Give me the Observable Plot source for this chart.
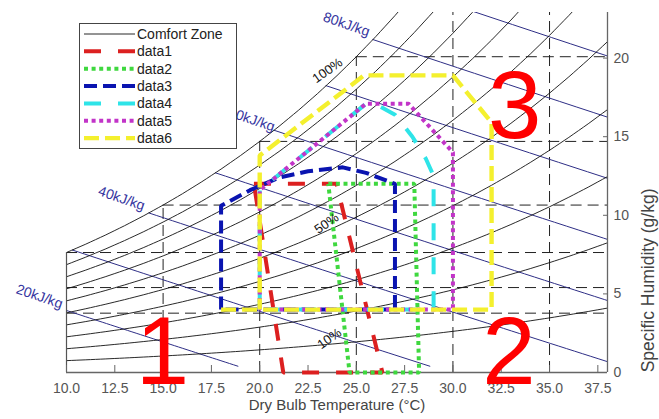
<!DOCTYPE html>
<html>
<head>
<meta charset="utf-8">
<script src="https://cdn.jsdelivr.net/npm/d3@7"></script>
<script src="https://cdn.jsdelivr.net/npm/@observablehq/plot@0.6"></script>
<style>
  body { margin: 0; background: #fff; }
  #chart { width: 659px; height: 419px; }
  #chart svg { display: block; }
</style>
</head>
<body>
<div id="chart"></div>
<script>
// ---------- psychrometric background data ----------
const satTemps = [0,1,2,3,4,5,6,7,8,9,10,11,12,13,14,15,16,17,18,19,20,21,22,23,24,25,26,27,28,29,30,31,32,33,34,35,36,37,38];
const satPressure = [0.6112,0.6571,0.7060,0.7581,0.8135,0.8726,0.9354,1.0021,1.0730,1.1482,1.2282,1.3130,1.4028,1.4981,1.5990,1.7058,1.8188,1.9384,2.0647,2.1983,2.3393,2.4882,2.6453,2.8111,2.9858,3.1699,3.3639,3.5681,3.7831,4.0092,4.2470,4.4969,4.7596,5.0354,5.3251,5.6290,5.9479,6.2823,6.6328];
const atmPressure = 101.325;
const rhLevels = [10,20,30,40,50,60,70,80,90,100];
const enthalpyLevels = [20,30,40,50,60,70,80,90];
const gridTemps = [10,15,20,25,30,35];
const gridDewPoints = [0,5,10,15,20,25];

// ---------- axes ----------
const xTicks = [10,12.5,15,17.5,20,22.5,25,27.5,30,32.5,35,37.5];
const yTicks = [0,5,10,15,20];
const xLabel = "Dry Bulb Temperature (°C)";
const yLabel = "Specific Humidity (g/kg)";

// ---------- labels ----------
const rhLabelText = ["100%","50%","10%"];
const rhLabelT = [23.51, 23.46, 23.61];
const rhLabelW = [19.21, 9.48, 2.16];
const hLabelText = ["20kJ/kg","40kJ/kg","60kJ/kg","80kJ/kg"];
const hLabelT = [8.60, 12.85, 19.58, 24.49];
const hLabelW = [4.83, 11.07, 16.09, 22.14];
const zoneText = ["1","2","3"];
const zoneT = [14.97, 32.9, 33.19];
const zoneW = [-0.70, -0.70, 14.89];

// ---------- comfort zone polygons [temperature °C, humidity g/kg] ----------
const data1 = [[19.7,12.0],[23.97,12.0],[26.35,0],[21.22,0],[19.7,12.0]];
const data2 = [[23.55,12.0],[28.0,12.0],[28.25,0],[24.65,0],[23.55,12.0]];
const data3 = [[18.0,4.0],[18.0,10.6],[19.5,11.6],[21.0,12.4],[22.5,12.8],[24.3,13.05],[25.5,12.7],[27.0,12.0],[27.0,4.0],[18.0,4.0]];
const data4 = [[20.0,4.0],[20.0,11.6],[25.5,17.1],[26.1,17.0],[27.0,16.4],[27.9,15.0],[28.6,13.6],[29.0,12.5],[29.0,4.0],[20.0,4.0]];
const data5 = [[20.0,4.0],[20.0,11.6],[25.5,17.1],[27.7,17.1],[30.0,14.0],[30.0,4.0],[20.0,4.0]];
const data6 = [[18.0,4.0],[32.0,4.0],[32.0,15.9],[30.0,18.9],[25.4,18.9],[20.0,13.8],[20.0,4.0]];

const seriesNames = ["data1","data2","data3","data4","data5","data6"];
const seriesData = [data1, data2, data3, data4, data5, data6];
const seriesColors = ["#dc2020","#3fd83f","#0a14b0","#2ee4e8","#c234c8","#f4f02e"];
const seriesDash = ["17,17","4,3.6","13,6","17,17","4,3.6","15,6"];
const seriesWidth = [4,4,4,4,4,4.4];

// ---------- helpers ----------
function pws(T) {
  let i = Math.floor(T);
  i = Math.max(0, Math.min(i, satTemps.length - 2));
  const f = T - satTemps[i];
  return satPressure[i] + f * (satPressure[i + 1] - satPressure[i]);
}
function humidity(T, rh) {
  const p = rh / 100 * pws(T);
  return 622 * p / (atmPressure - p);
}
function enthalpyW(h, T) {
  return (h - 1.006 * T) / (2.501 + 0.00186 * T);
}
function saturationStart(h) {
  let lo = 0, hi = 40;
  for (let k = 0; k < 60; k++) {
    const m = (lo + hi) / 2;
    if (enthalpyW(h, m) > humidity(m, 100)) lo = m; else hi = m;
  }
  return hi;
}

const sampleTemps = d3.range(10, 38.001, 0.25);
const rhData = rhLevels.flatMap(rh => sampleTemps.map(T => ({rh, T, w: humidity(T, rh)})));
const wEnd = 0.4;
const hData = enthalpyLevels.flatMap(h => {
  const t0 = saturationStart(h);
  const t1 = (h - wEnd * 2.501) / (1.006 + wEnd * 0.00186);
  return d3.range(0, 61).map(k => {
    const T = t0 + k * (t1 - t0) / 60;
    return {h, T, w: enthalpyW(h, T)};
  });
});

const navy = "#2e2e86";
const font = "Liberation Sans, Arial, Helvetica, sans-serif";

const chart = Plot.plot({
  width: 659,
  height: 419,
  marginLeft: 66,
  marginRight: 52,
  marginTop: 12,
  marginBottom: 47,
  style: {fontFamily: font, background: "#fff", overflow: "visible"},
  x: {domain: [10, 38], axis: null},
  y: {domain: [0, 22.9], axis: null},
  marks: [
    // dashed grid (dry bulb / dew point)
    Plot.ruleX(gridTemps, {x: d => d, y1: 0, y2: d => humidity(d, 100), stroke: "#222", strokeWidth: 1, strokeDasharray: "11,6", clip: true}),
    Plot.ruleY(gridDewPoints, {y: d => humidity(d, 100), x1: d => Math.max(d, 10), x2: 38, stroke: "#222", strokeWidth: 1, strokeDasharray: "11,6", clip: true}),
    // enthalpy lines
    Plot.line(hData, {x: "T", y: "w", z: "h", stroke: navy, strokeWidth: 1, clip: true}),
    // relative humidity curves (Comfort Zone)
    Plot.line(rhData, {x: "T", y: "w", z: "rh", stroke: "#111", strokeWidth: 0.9, clip: true}),
    // axis lines
    Plot.ruleY([0], {x1: 10, x2: 38, stroke: "#666", strokeWidth: 1.3}),
    Plot.ruleX([38], {y1: 0, y2: 22.9, stroke: "#666", strokeWidth: 1.3}),
    Plot.ruleX([10], {y1: 0, y2: humidity(10, 100), stroke: "#555", strokeWidth: 1.2}),
    Plot.tickX(xTicks, {x: d => d, insetTop: 353, stroke: "#666", strokeWidth: 1}),
    Plot.tickY(yTicks, {y: d => d, insetLeft: 537, stroke: "#666", strokeWidth: 1}),
    // comfort zone polygons
    ...seriesData.map((s, i) => Plot.line(s, {
      x: d => d[0], y: d => d[1],
      stroke: seriesColors[i], strokeWidth: seriesWidth[i],
      strokeDasharray: seriesDash[i], strokeLinecap: "butt", strokeLinejoin: "miter"
    })),
    // RH labels
    Plot.text(rhLabelText, {x: (d, i) => rhLabelT[i], y: (d, i) => rhLabelW[i], text: d => d, rotate: -35, fontSize: 13, fill: "#111"}),
    // enthalpy labels
    Plot.text(hLabelText, {x: (d, i) => hLabelT[i], y: (d, i) => hLabelW[i], text: d => d, rotate: 19, fontSize: 14, fill: "#3535a0"}),
    // tick labels
    Plot.text(xTicks, {x: d => d, y: 0, dy: 16, text: d => d.toFixed(1), fontSize: 14, fill: "#555", ariaLabel: "xticklabels"}),
    Plot.text(yTicks, {x: 38, y: d => d, dx: 6, text: d => String(d), textAnchor: "start", fontSize: 14, fill: "#555", ariaLabel: "yticklabels"}),
    // axis titles
    Plot.text([xLabel], {frameAnchor: "bottom", dy: 37, text: d => d, fontSize: 15, fill: "#444", ariaLabel: "xtitle"}),
    Plot.text([yLabel], {frameAnchor: "right", dx: 41, dy: -4, rotate: -90, text: d => d, fontSize: 17.5, fill: "#444"}),
    // zone numbers
    Plot.text(zoneText, {x: (d, i) => zoneT[i], y: (d, i) => zoneW[i], text: d => d, lineAnchor: "bottom", fontSize: 96, fill: "#ff0000"})
  ]
});

document.getElementById("chart").append(chart);

// legend
const svg = d3.select(chart);
const lg = svg.append("g").attr("font-family", font).attr("font-size", 14).attr("text-anchor", "start");
lg.append("rect").attr("x", 79.5).attr("y", 23.5).attr("width", 157).attr("height", 125)
  .attr("fill", "#fff").attr("stroke", "#444").attr("stroke-width", 1);
const legendNames = ["Comfort Zone", ...seriesNames];
legendNames.forEach((name, i) => {
  const y = 34 + i * 17.35;
  const line = lg.append("line").attr("x1", 84).attr("x2", 135).attr("y1", y).attr("y2", y);
  if (i === 0) {
    line.attr("stroke", "#111").attr("stroke-width", 0.9);
  } else {
    line.attr("stroke", seriesColors[i - 1]).attr("stroke-width", seriesWidth[i - 1])
      .attr("stroke-dasharray", seriesDash[i - 1]).attr("stroke-linecap", "butt");
  }
  lg.append("text").attr("x", 137).attr("y", y + 5).attr("fill", "#222").attr("text-anchor", "start").text(name);
});

// horizontal stretch of tick labels and x title to match reference glyph widths
function stretch(sel, factor, fixed) {
  sel.each(function () {
    const w = this.getComputedTextLength();
    this.setAttribute("textLength", fixed ? fixed : w * factor);
    this.setAttribute("lengthAdjust", "spacingAndGlyphs");
  });
}
stretch(svg.selectAll('g[aria-label="xticklabels"] text'), 1.15);
stretch(svg.selectAll('g[aria-label="yticklabels"] text'), 1.15);
stretch(svg.selectAll('g[aria-label="xtitle"] text'), 1, 240);
</script>
</body>
</html>
